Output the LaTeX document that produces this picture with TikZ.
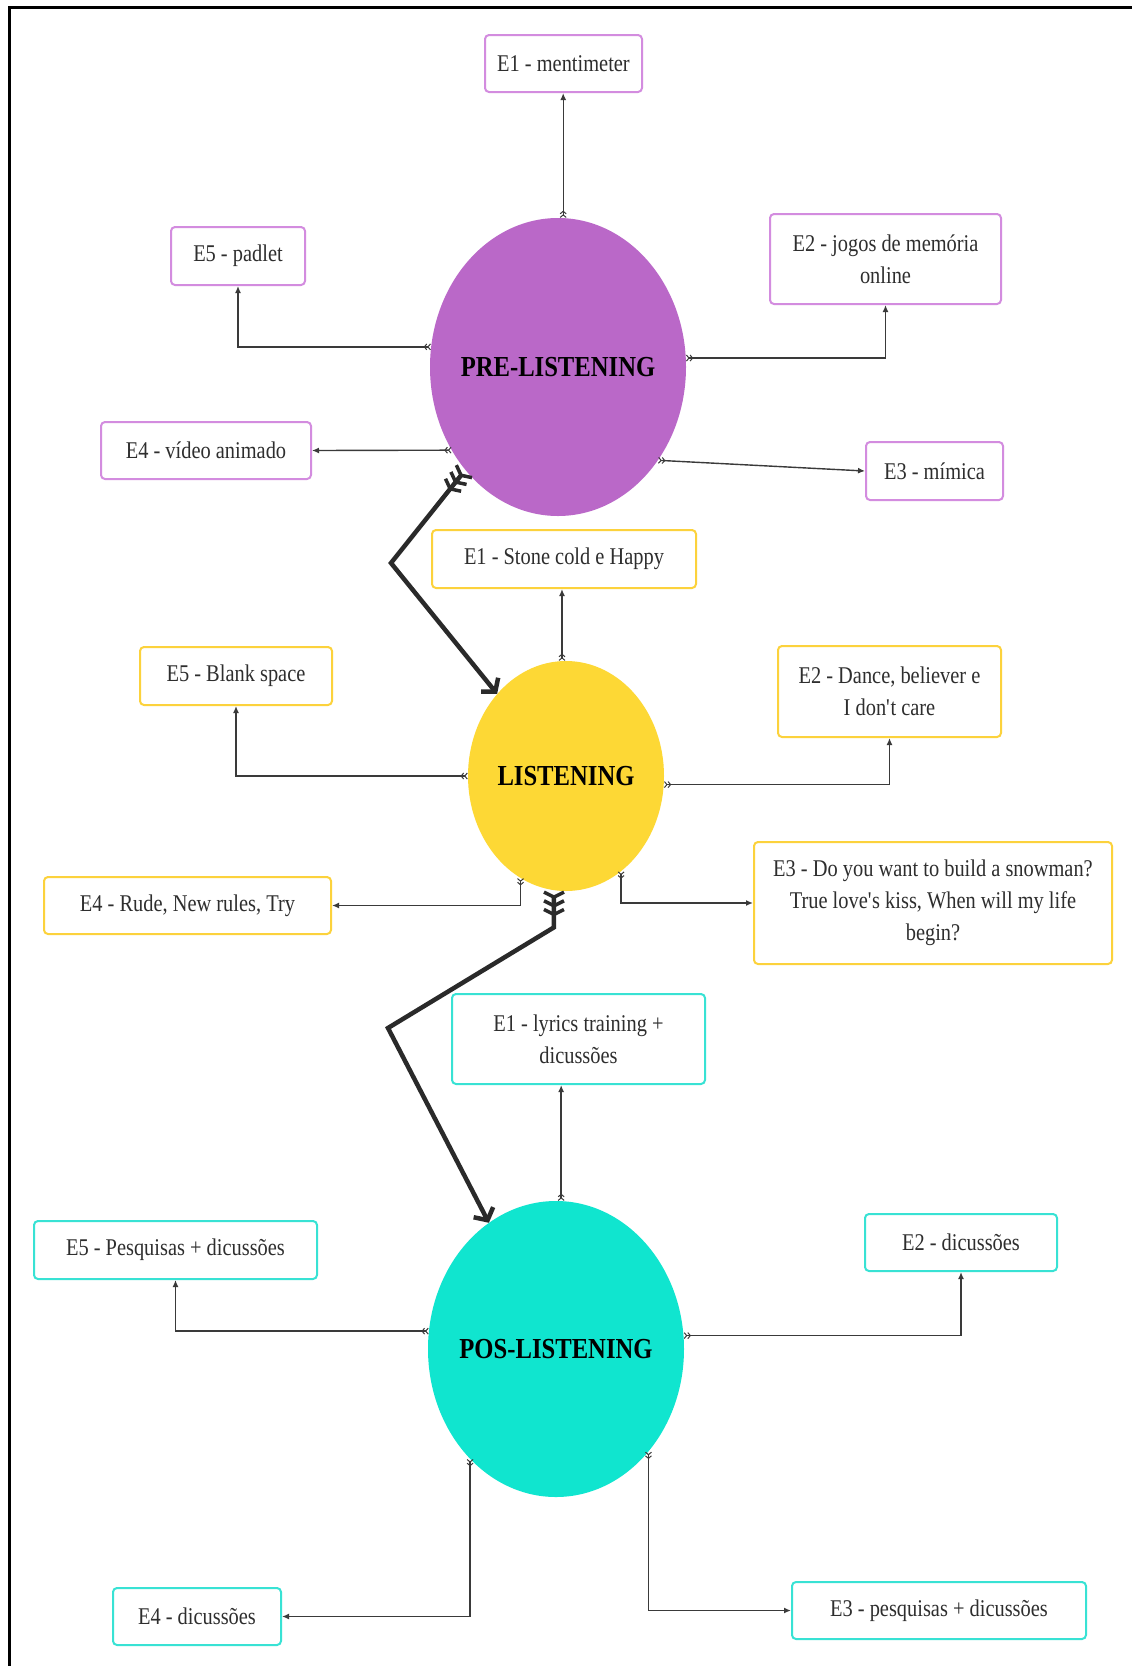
\documentclass[tikz,border=0pt]{standalone}
\usepackage{fontspec}
\setmainfont{Liberation Serif}[FakeStretch=0.85]
\usetikzlibrary{arrows.meta,shapes.geometric,calc}
\definecolor{pfill}{HTML}{BA68C8}
\definecolor{pborder}{HTML}{D38CDF}
\definecolor{yfill}{HTML}{FDD835}
\definecolor{yborder}{HTML}{FCD23C}
\definecolor{cfill}{HTML}{10E5CF}
\definecolor{cborder}{HTML}{38E2D4}
\definecolor{txt}{HTML}{2E2E2E}
\definecolor{lk}{HTML}{3A3A3A}
\definecolor{bigk}{HTML}{2A2A2A}
\tikzset{
  box/.style={draw, rounded corners=4pt, line width=2pt, fill=white, inner sep=2pt,
    align=center, text=txt, font=\fontsize{24}{32}\selectfont},
  bsize/.style 2 args={minimum width=#1pt, minimum height=#2pt},
  pbox/.style={box, draw=pborder},
  ybox/.style={box, draw=yborder},
  cbox/.style={box, draw=cborder},
  phase/.style={ellipse, inner sep=0pt,
    label={[text=black, font=\fontsize{29}{34}\selectfont\bfseries]center:#1}},
  link/.style={line width=1.4pt, draw=lk,
    arrows={{Straight Barb[reversed,length=2.5pt,width=6pt,line width=1pt]Straight Barb[reversed,length=2.5pt,width=6pt,line width=1pt]}-{Latex[length=7pt,width=6pt]}}},
  big/.style={line width=4.5pt, draw=bigk, line join=miter,
    arrows={{Straight Barb[reversed,length=5pt,width=20pt,line width=3.5pt]Straight Barb[reversed,length=5pt,width=20pt,line width=3.5pt]Straight Barb[reversed,length=5pt,width=20pt,line width=3.5pt]}-{Straight Barb[length=9pt,width=22pt,line width=4.5pt]}}},
}
\begin{document}
\begin{tikzpicture}[x=1pt,y=-1pt]
\useasboundingbox (0,0) rectangle (1132,1666);
\fill[white] (0,0) rectangle (1132,1666);
% frame
\draw[line width=3pt] (9,1666) -- (9,7) -- (1132,7);

% phases
\node[phase={PRE-LISTENING}, fill=pfill, minimum width=256pt, minimum height=298pt] (pre) at (558,367) {};
\node[phase={LISTENING}, fill=yfill, minimum width=196pt, minimum height=230pt] (lis) at (566,776) {};
\node[phase={POS-LISTENING}, fill=cfill, minimum width=256pt, minimum height=296pt] (pos) at (556,1349) {};

% pre-listening boxes
\node[pbox, bsize={157}{57}] (e1a) at (563.5,63.5) {E1 - mentimeter};
\node[pbox, bsize={134}{58}] (e5a) at (238,256) {E5 - padlet};
\node[pbox, bsize={231}{90}] (e2a) at (885.5,259) {E2 - jogos de memória\\online};
\node[pbox, bsize={210}{57}] (e4a) at (206,450.5) {E4 - vídeo animado};
\node[pbox, bsize={137}{58}] (e3a) at (934.5,471) {E3 - mímica};

% listening boxes
\node[ybox, bsize={264}{58}] (e1b) at (564,559) {E1 - Stone cold e Happy};
\node[ybox, bsize={192}{58}] (e5b) at (236,676) {E5 - Blank space};
\node[ybox, bsize={223}{91}] (e2b) at (889.5,691.5) {E2 - Dance, believer e\\I don\textquotesingle t care};
\node[ybox, bsize={287}{57}] (e4b) at (187.5,905.5) {E4 - Rude, New rules, Try};
\node[ybox, bsize={358}{122}] (e3b) at (933,903) {E3 - Do you want to build a snowman?\\True love\textquotesingle s kiss, When will my life\\begin?};

% pos-listening boxes
\node[cbox, bsize={253}{90}] (e1c) at (578.5,1039) {E1 - lyrics training +\\dicussões};
\node[cbox, bsize={283}{58}] (e5c) at (175.5,1250) {E5 - Pesquisas + dicussões};
\node[cbox, bsize={192}{57}] (e2c) at (961,1242.5) {E2 - dicussões};
\node[cbox, bsize={168}{57}] (e4c) at (197,1616.5) {E4 - dicussões};
\node[cbox, bsize={294}{57}] (e3c) at (939,1610.5) {E3 - pesquisas + dicussões};

% pre-listening links
\draw[link] (pre.88.5) -- (pre.88.5 |- e1a.south);
\draw[link] (pre.171) -| (e5a.south);
\draw[link] (pre.4) -| (e2a.south);
\draw[link] (pre.218) -- (e4a.east);
\draw[link] (pre.317) -- (e3a.west);

% listening links
\draw[link] (lis.92.5) -- (lis.92.5 |- e1b.south);
\draw[link] (lis.180) -| (e5b.south);
\draw[link] (lis.355) -| (e2b.south);
\draw[link] (lis.246) |- (e4b.east);
\draw[link] (lis.300) |- (e3b.west);

% pos-listening links
\draw[link] (pos.88) -- (pos.88 |- e1c.south);
\draw[link] (pos.172) -| (e5c.south);
\draw[link] (pos.6) -| (e2c.south);
\draw[link] (pos.232) |- (e4c.east);
\draw[link] (pos.312) |- (e3c.west);

% phase-to-phase connectors
\coordinate (k1) at (391,563);
\draw[big] (pre.228) -- (k1) -- (lis.130);
\coordinate (k2) at (388,1028);
\draw[big] (lis.264) -- ++(0,37) -- (k2) -- (pos.118);
\end{tikzpicture}
\end{document}
